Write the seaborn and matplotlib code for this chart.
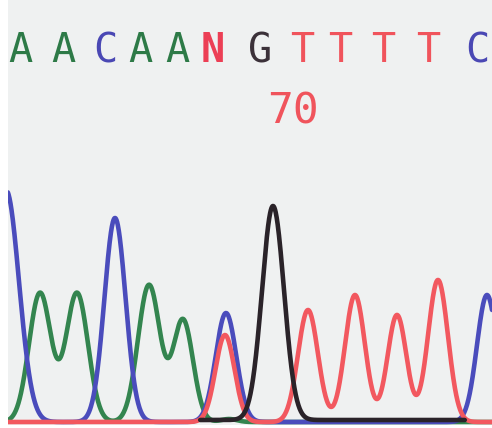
import numpy as np
import pandas as pd
import matplotlib
matplotlib.use("Agg")
import matplotlib.pyplot as plt
import seaborn as sns

# Called bases and their positions along the trace
bases = ["A", "A", "C", "A", "A", "N", "G", "T", "T", "T", "T", "C"]
base_pos = [20, 63, 105, 140, 177, 213, 260, 302, 340, 383, 428, 477]
position_label = "70"
position_label_x = 293

# Peak tables per dye channel: scan position, peak height, peak width
a_pos = [40, 77, 149, 183, 229]
a_height = [129, 129, 137, 102, 3]
a_width = [11, 11, 11, 10, 8]

c_pos = [6, 115, 226, 487]
c_height = [232, 204, 109, 127]
c_width = [13, 10.6, 10.3, 10]

g_pos = [273]
g_height = [214]
g_width = [11]
g_span = (200, 465)
g_floor = 2

t_pos = [225, 308, 355, 397, 438]
t_height = [87, 112, 127, 107, 142]
t_width = [9.5, 10, 10, 9.5, 10]

dye_colors = {"A": "#33854f", "C": "#4a4cbc", "G": "#2a2329", "T": "#f2585f"}
letter_colors = {"A": "#2d7a47", "C": "#4a48b4", "G": "#3b3139",
                 "T": "#f0545c", "N": "#ec3f55"}

scan = np.linspace(0, 492, 1500)


def trace(pos, height, width, x):
    y = np.zeros_like(x)
    for p, h, w in zip(pos, height, width):
        y += h * np.exp(-0.5 * ((x - p) / w) ** 2)
    return y


frames = []
for dye, (pos, height, width) in {
    "A": (a_pos, a_height, a_width),
    "C": (c_pos, c_height, c_width),
    "T": (t_pos, t_height, t_width),
}.items():
    frames.append(pd.DataFrame({"scan": scan, "signal": trace(pos, height, width, scan), "dye": dye}))
g_scan = scan[(scan >= g_span[0]) & (scan <= g_span[1])]
frames.append(pd.DataFrame({"scan": g_scan,
                            "signal": trace(g_pos, g_height, g_width, g_scan) + g_floor,
                            "dye": "G"}))
df = pd.concat(frames, ignore_index=True)

sns.set_theme(style="white")
fig = plt.figure(figsize=(4.92, 4.28), dpi=100, facecolor="white")
ax = fig.add_axes([8 / 492, 3 / 428, 484 / 492, 425 / 428])
ax.set_facecolor("#eff1f1")

for z, dye in enumerate(["A", "C", "T", "G"]):
    sns.lineplot(data=df[df["dye"] == dye], x="scan", y="signal", color=dye_colors[dye],
                 lw=3.3, ax=ax, zorder=2 + z, sort=False, legend=False)

for b, x in zip(bases, base_pos):
    ax.text(x, 360, b, ha="center", va="baseline", fontsize=29,
            family="DejaVu Sans Mono", color=letter_colors[b],
            fontweight="bold" if b == "N" else "normal", zorder=10)
ax.text(position_label_x, 299, position_label, ha="center", va="baseline", fontsize=31,
        family="DejaVu Sans Mono", color="#f0545c", zorder=10)

ax.set_xlim(8, 492)
ax.set_ylim(-3, 422)
ax.set_xticks([])
ax.set_yticks([])
ax.set_xlabel("")
ax.set_ylabel("")
for s in ax.spines.values():
    s.set_visible(False)

fig.savefig("out.png", dpi=100, facecolor="white")
